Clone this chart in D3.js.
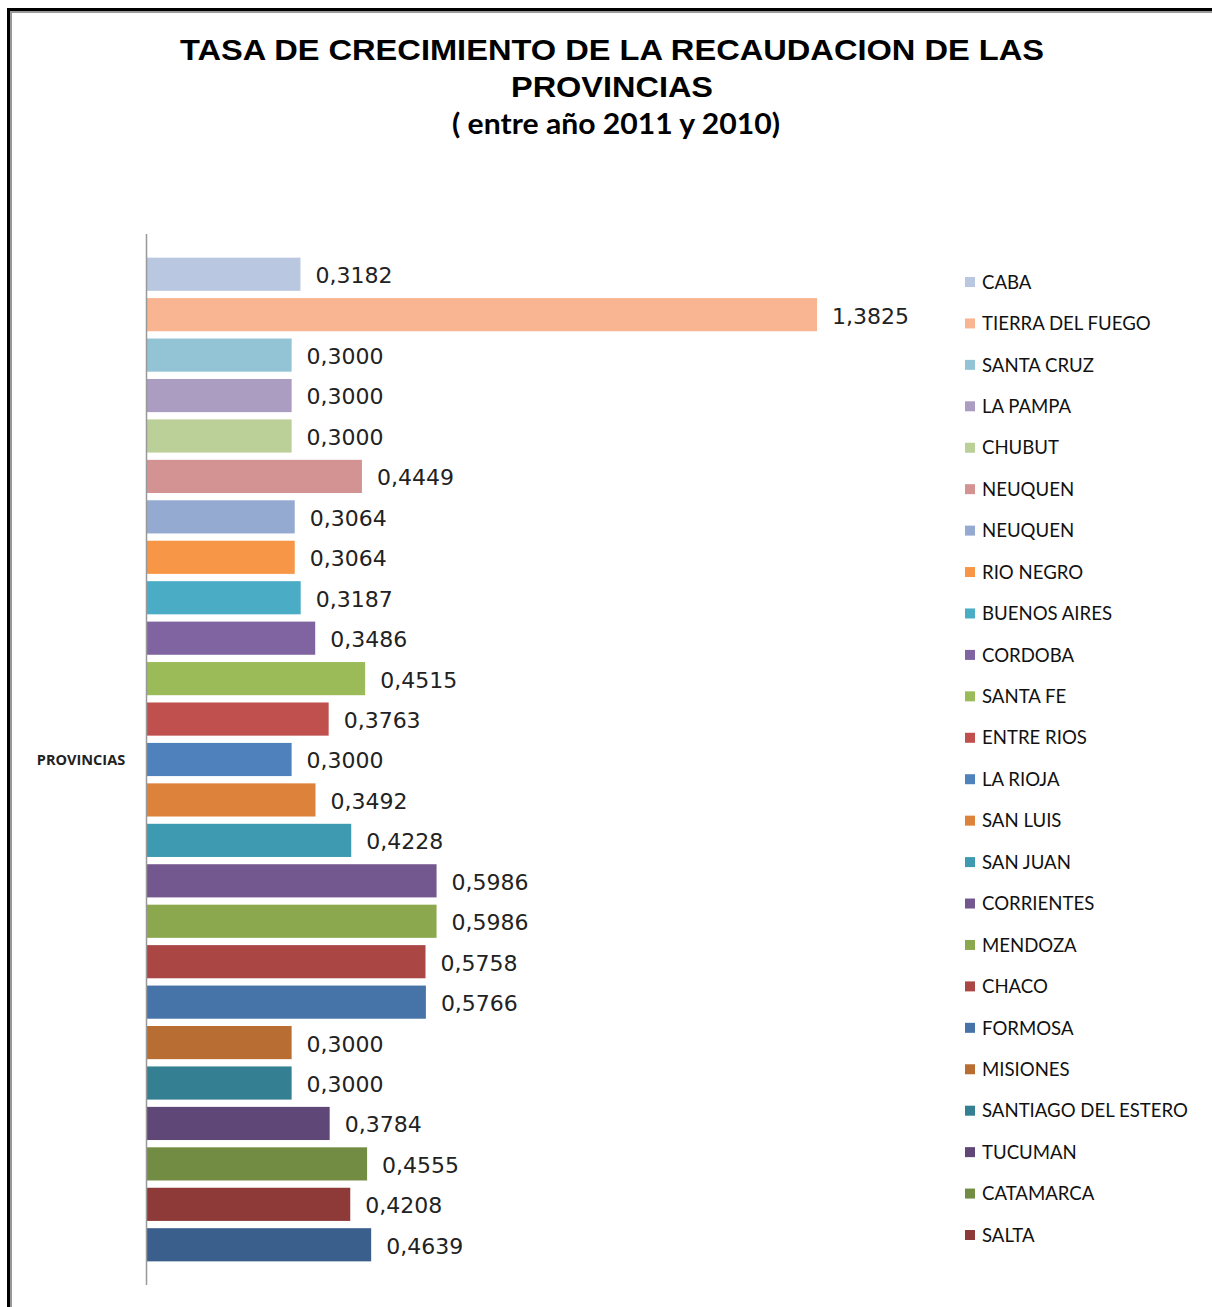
<!DOCTYPE html>
<html>
<head>
<meta charset="utf-8">
<script src="https://cdn.jsdelivr.net/npm/d3@7"></script>
<style>
  body { margin: 0; background: #fff; }
  svg { display: block; }
</style>
</head>
<body>
<svg></svg>
<script>
let svgWidth = 1212
let svgHeight = 1307

// data
const provinces = ['CABA', 'TIERRA DEL FUEGO', 'SANTA CRUZ', 'LA PAMPA', 'CHUBUT', 'NEUQUEN', 'NEUQUEN',
    'RIO NEGRO', 'BUENOS AIRES', 'CORDOBA', 'SANTA FE', 'ENTRE RIOS', 'LA RIOJA', 'SAN LUIS', 'SAN JUAN',
    'CORRIENTES', 'MENDOZA', 'CHACO', 'FORMOSA', 'MISIONES', 'SANTIAGO DEL ESTERO', 'TUCUMAN', 'CATAMARCA', 'SALTA']
// 25 bars, the last one has no legend entry in the original
const tasas = [0.3182, 1.3825, 0.3000, 0.3000, 0.3000, 0.4449, 0.3064, 0.3064, 0.3187, 0.3486, 0.4515,
    0.3763, 0.3000, 0.3492, 0.4228, 0.5986, 0.5986, 0.5758, 0.5766, 0.3000, 0.3000, 0.3784, 0.4555, 0.4208, 0.4639]
const colores = ['#b9c7e1', '#f9b591', '#93c4d5', '#ab9cc2', '#bbcf99', '#d49393', '#95aad1', '#f79646',
    '#4bacc6', '#8064a2', '#9bbb59', '#c0504d', '#4f81bd', '#dd823b', '#3d9ab0', '#73578f', '#8ba84f',
    '#aa4744', '#4673a8', '#b86e32', '#347f92', '#5f4778', '#738c43', '#8e3a38', '#3b5f8c']
const titulo = ['TASA DE CRECIMIENTO DE LA RECAUDACION DE LAS', 'PROVINCIAS']
const subtitulo = '( entre año 2011 y 2010)'

let svg = d3.select('svg')
    .attr('width', svgWidth)
    .attr('height', svgHeight)

// frame
svg.append('path')
    .attr('d', `M8.5,${svgHeight} V9.5 H${svgWidth}`)
    .attr('fill', 'none').attr('stroke', '#000').attr('stroke-width', 3)
svg.append('path')
    .attr('d', `M11,${svgHeight} V12 H${svgWidth}`)
    .attr('fill', 'none').attr('stroke', '#999').attr('stroke-width', 2)

// titles
const tituloAncho = [864, 202]
svg.selectAll('.titulo').data(titulo)
    .enter()
    .append('text')
    .attr('class', 'titulo')
    .attr('x', 612)
    .attr('y', (d, i) => 60 + i * 37)
    .attr('text-anchor', 'middle')
    .attr('font-family', 'Liberation Sans, Arial, sans-serif')
    .attr('font-weight', 'bold')
    .attr('font-size', 30)
    .attr('textLength', (d, i) => tituloAncho[i])
    .attr('lengthAdjust', 'spacingAndGlyphs')
    .text(d => d)

svg.append('text')
    .attr('x', 616)
    .attr('y', 134)
    .attr('text-anchor', 'middle')
    .attr('font-family', 'Lato, Open Sans, sans-serif')
    .attr('font-weight', 'bold')
    .attr('font-size', 28)
    .attr('textLength', 328)
    .attr('lengthAdjust', 'spacingAndGlyphs')
    .text(subtitulo)

const xScale = d3.scaleLinear()
    .domain([0, 1])
    .range([146, 146 + 485.4])

const yScale = d3.scaleBand()
    .domain(d3.range(tasas.length))
    .range([254, 1265])
    .paddingInner(0.18)
    .paddingOuter(0.09)

// bars
svg.selectAll('rect.bar').data(tasas)
    .enter()
    .append('rect')
    .attr('class', 'bar')
    .attr('x', xScale(0))
    .attr('y', (d, i) => yScale(i))
    .attr('width', d => xScale(d) - xScale(0))
    .attr('height', yScale.bandwidth())
    .attr('fill', (d, i) => colores[i])

// value labels
svg.selectAll('text.valor').data(tasas)
    .enter()
    .append('text')
    .attr('class', 'valor')
    .attr('x', d => xScale(d) + 15)
    .attr('y', (d, i) => yScale(i) + yScale.bandwidth() / 2 + 1)
    .attr('dy', '0.36em')
    .attr('font-family', 'DejaVu Sans, sans-serif')
    .attr('font-size', 22)
    .attr('fill', '#222')
    .text(d => d.toFixed(4).replace('.', ','))

// vertical axis
svg.append('line')
    .attr('x1', 146.5).attr('x2', 146.5)
    .attr('y1', 234).attr('y2', 1285)
    .attr('stroke', '#999').attr('stroke-width', 1.5)

svg.append('text')
    .attr('x', 81)
    .attr('y', 760)
    .attr('dy', '0.35em')
    .attr('text-anchor', 'middle')
    .attr('font-family', 'Open Sans, sans-serif')
    .attr('font-weight', 'bold')
    .attr('font-size', 14.5)
    .attr('fill', '#222')
    .text('PROVINCIAS')

// legend
const legendY = d3.scaleLinear()
    .domain([0, provinces.length - 1])
    .range([282, 1235])

let legend = svg.selectAll('g.legend').data(provinces)
    .enter()
    .append('g')
    .attr('class', 'legend')
    .attr('transform', (d, i) => `translate(965,${legendY(i)})`)

legend.append('rect')
    .attr('x', 0).attr('y', -5)
    .attr('width', 10).attr('height', 10)
    .attr('fill', (d, i) => colores[i])

legend.append('text')
    .attr('x', 17)
    .attr('dy', '0.36em')
    .attr('font-family', 'Lato, sans-serif')
    .attr('font-size', 18.6)
    .attr('fill', '#111')
    .text(d => d)
</script>
</body>
</html>
